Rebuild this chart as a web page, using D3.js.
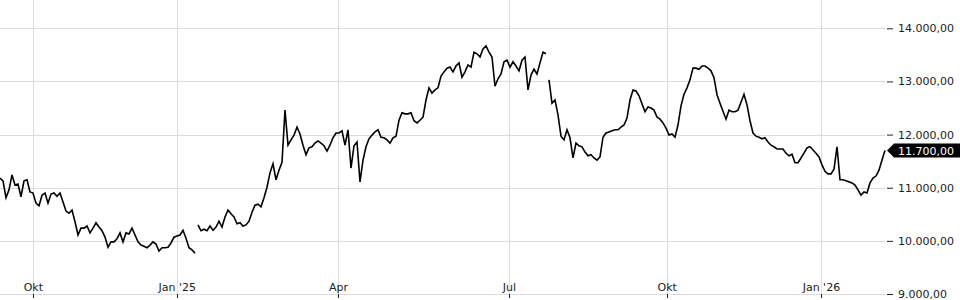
<!DOCTYPE html>
<html>
<head>
<meta charset="utf-8">
<script src="https://cdn.jsdelivr.net/npm/d3@7"></script>
<style>
  body { margin: 0; background: #fff; }
  svg { display: block; font-family: "DejaVu Sans", sans-serif; }
</style>
</head>
<body>
<div id="chart"></div>
<script>
// price series, one value per session step; the feed has two short breaks
const seg1 = [
  11180, 11130, 10810, 10960, 11240, 11050, 11070, 10830, 11130, 11150,
  10920, 10900, 10710, 10660, 10860, 10900, 10710, 10880, 10900, 10840,
  10900, 10730, 10560, 10520, 10580, 10360, 10110, 10240, 10240, 10280,
  10150, 10240, 10340, 10260, 10190, 10070, 9880, 9980, 9980, 10040,
  10150, 9980, 10150, 10130, 10240, 10110, 9980, 9920, 9900, 9870,
  9920, 9980, 9940, 9810, 9870, 9870, 9880, 9960, 10070, 10090,
  10110, 10200, 10050, 9870, 9830, 9770
];
const seg2 = [
  10300, 10190, 10220, 10190, 10280, 10200, 10260, 10370, 10260, 10450,
  10580, 10510, 10450, 10320, 10340, 10280, 10300, 10370, 10540, 10670,
  10690, 10640, 10810, 11010, 11280, 11450, 11150, 11330, 11480, 12460,
  11800, 11900, 11990, 12140, 12010, 11800, 11620, 11750, 11770, 11840,
  11880, 11840, 11790, 11690, 11800, 11940, 12030, 12030, 12070, 11800,
  12090, 11370, 11790, 11860, 11110, 11520, 11770, 11920, 11990, 12050,
  12090, 11950, 11940, 11900, 11840, 11940, 11970, 12270, 12410, 12390,
  12390, 12410, 12260, 12220, 12270, 12330, 12650, 12880, 12780, 12840,
  12880, 13100, 13180, 13250, 13270, 13180, 13290, 13350, 13080, 13180,
  13310, 13270, 13550, 13520, 13460, 13610, 13670, 13550, 13460, 12910,
  13050, 13140, 13370, 13400, 13270, 13370, 13290, 13200, 13400, 13460,
  12840, 13120, 13230, 13140, 13350, 13550, 13520
];
const seg3 = [
  13030, 12590, 12650, 12370, 11970, 11900, 12090, 11940, 11560, 11840,
  11790, 11770, 11670, 11600, 11620, 11560, 11520, 11580, 11950, 12030,
  12050, 12070, 12090, 12090, 12140, 12180, 12310, 12650, 12840, 12820,
  12730, 12580, 12430, 12520, 12500, 12460, 12330, 12290, 12220, 12120,
  11990, 12010, 11950, 12180, 12540, 12760, 12880, 13030, 13250, 13250,
  13230, 13290, 13290, 13250, 13200, 13070, 12750, 12590, 12440, 12290,
  12460, 12430, 12430, 12460, 12610, 12760, 12560, 12260, 12030, 11970,
  11950, 11920, 11940, 11860, 11800, 11770, 11730, 11730, 11730, 11650,
  11600, 11630, 11470, 11470, 11560, 11650, 11750, 11770, 11710, 11650,
  11580, 11430, 11310, 11260, 11260, 11350, 11770, 11150, 11150, 11130,
  11110, 11090, 11050, 10960, 10860, 10920, 10900, 11090, 11180, 11220,
  11330, 11520, 11700
];

// month starts, as session position in the series
const monthLabels = ["Okt", "Jan '25", "Apr", "Jul", "Okt", "Jan '26"];
const monthAt = [11.1, 59.1, 112.8, 169.8, 222.4, 273.8];

const priceTicks = [9000, 10000, 11000, 12000, 13000, 14000];
const lastPrice = 11700;

const width = 960, height = 300;
const plotRight = 885, plotBottom = 294;

const fmt = d3.formatLocale({ decimal: ",", thousands: ".", grouping: [3], currency: ["", ""] }).format(",.2f");

// stitch segments together, keeping their session index
const segments = [];
let idx = 0;
[seg1, seg2, seg3].forEach(s => {
  segments.push(s.map(v => ({ i: idx++, v })));
});
const total = idx;

const x = d3.scaleLinear().domain([0, total - 1]).range([0, plotRight]);
const y = d3.scaleLinear().domain([9000, 14000]).range([plotBottom, 28.3]);

const svg = d3.select("#chart").append("svg")
  .attr("width", width)
  .attr("height", height);

// horizontal grid
svg.append("g")
  .selectAll("line")
  .data(priceTicks)
  .join("line")
  .attr("x1", 0)
  .attr("x2", plotRight)
  .attr("y1", d => Math.round(y(d)) + 0.5)
  .attr("y2", d => Math.round(y(d)) + 0.5)
  .attr("stroke", "#dcdcdc");

// vertical grid
svg.append("g")
  .selectAll("line")
  .data(monthAt)
  .join("line")
  .attr("x1", d => Math.round(x(d)) + 0.5)
  .attr("x2", d => Math.round(x(d)) + 0.5)
  .attr("y1", 0)
  .attr("y2", plotBottom)
  .attr("stroke", "#dcdcdc");

// bottom axis: ticks below, labels inside the plot
const xAxis = svg.append("g")
  .attr("transform", `translate(0, ${plotBottom})`);
xAxis.append("line")
  .attr("x1", 0).attr("x2", plotRight)
  .attr("y1", 0.5).attr("y2", 0.5)
  .attr("stroke", "#dcdcdc");
xAxis.selectAll(".tick")
  .data(monthAt)
  .join("line")
  .attr("class", "tick")
  .attr("x1", d => Math.round(x(d)) + 0.5)
  .attr("x2", d => Math.round(x(d)) + 0.5)
  .attr("y1", 0).attr("y2", 4)
  .attr("stroke", "#222");
xAxis.selectAll(".lbl")
  .data(monthAt)
  .join("text")
  .attr("class", "lbl")
  .attr("x", d => x(d))
  .attr("y", -3)
  .attr("text-anchor", "middle")
  .style("font-size", "11px")
  .attr("fill", "#222")
  .text((d, k) => monthLabels[k]);

// right axis
const yAxis = svg.append("g")
  .attr("transform", `translate(${plotRight}, 0)`)
  .call(d3.axisRight(y).tickValues(priceTicks).tickFormat(fmt).tickSize(8).tickPadding(5))
  .call(g => g.select(".domain").remove());
yAxis.selectAll(".tick line").attr("stroke", "#222").attr("x1", 2);
yAxis.selectAll(".tick text")
  .attr("fill", "#222")
  .style("font-size", "11px")
  .style("font-family", "DejaVu Sans, sans-serif");

// price line
const line = d3.line()
  .x(d => x(d.i))
  .y(d => y(d.v));

svg.append("g")
  .selectAll("path")
  .data(segments)
  .join("path")
  .attr("d", line)
  .attr("fill", "none")
  .attr("stroke", "#000")
  .attr("stroke-width", 1.6)
  .attr("stroke-linejoin", "miter");

// last price tag
const ly = y(lastPrice);
const tag = svg.append("g").attr("transform", `translate(${plotRight + 2}, ${ly})`);
tag.append("path")
  .attr("d", "M0,0 L7,-7 L75,-7 L75,7 L7,7 Z")
  .attr("fill", "#000");
tag.append("text")
  .attr("x", 11)
  .attr("y", 4)
  .attr("fill", "#fff")
  .style("font-size", "11px")
  .text(fmt(lastPrice));
</script>
</body>
</html>
